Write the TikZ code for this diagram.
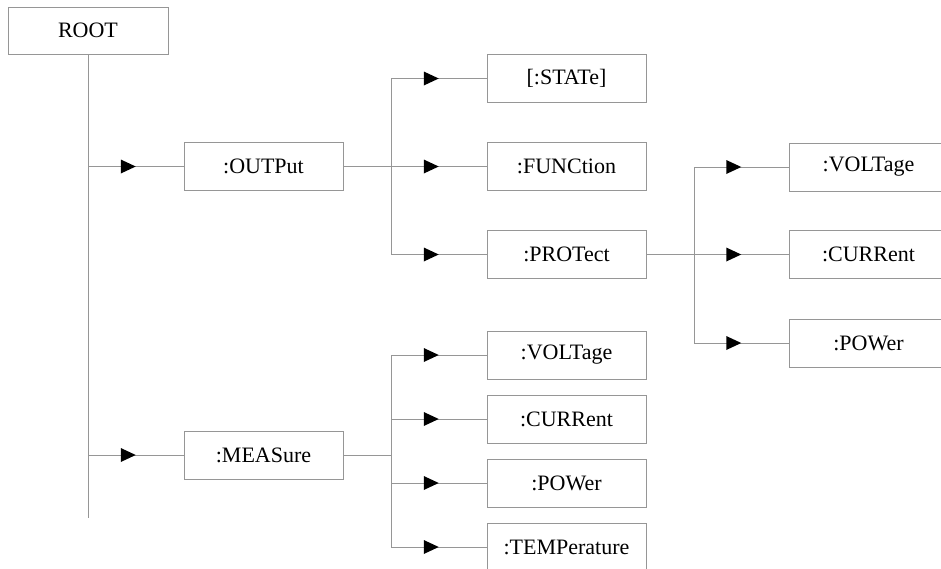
\documentclass[tikz,border=0pt]{standalone}
\usepackage{fontspec}
\setmainfont{Liberation Serif}
\usetikzlibrary{decorations.markings}
\definecolor{linegray}{RGB}{150,150,150}
\begin{document}
\begin{tikzpicture}[x=1pt,y=-1pt,
  box/.style={draw=linegray, line width=1pt, fill=white, minimum width=159pt, minimum height=48pt, inner sep=0pt, font=\fontsize{22}{24}\selectfont},
  conn/.style={draw=linegray, line width=1pt},
  arr/.style={conn, postaction={decorate}, decoration={markings, mark=at position 0.5 with {\fill[black] (-15pt,7pt) -- (0pt,0pt) -- (-15pt,-7pt) -- cycle;}}}
]
\clip (0,0) rectangle (941,568);
\fill[white] (0,0) rectangle (941,568);
% nodes
\node[box, minimum width=160pt, minimum height=47pt] (root) at (88,30.5) {ROOT};
\node[box] (out) at (263.5,166.5) {:OUTPut};
\node[box] (meas) at (263.5,455) {:MEASure};
\node[box] (state) at (566.5,78.5) {[:STATe]};
\node[box] (func) at (566.5,166.5) {:FUNCtion};
\node[box] (prot) at (566.5,254.5) {:PROTect};
\node[box] (mv) at (566.5,355) {:VOLTage};
\node[box] (mc) at (566.5,419) {:CURRent};
\node[box] (mp) at (566.5,483) {:POWer};
\node[box] (mt) at (566.5,547) {:TEMPerature};
\node[box] (pv) at (868.5,167) {:VOLTage};
\node[box] (pc) at (868.5,254.5) {:CURRent};
\node[box] (pp) at (868.5,343) {:POWer};
% branch coordinates
\coordinate (rend) at (88,518);
\coordinate (ob) at (391,166.5);
\coordinate (mb) at (391,455);
\coordinate (pb) at (694,254.5);
% root trunk
\draw[conn] (root.south) -- (rend);
\draw[arr] (root.south |- out.west) -- (out.west);
\draw[arr] (root.south |- meas.west) -- (meas.west);
% OUTPut branch
\draw[conn] (out.east) -- (ob);
\draw[conn] (ob |- state.west) -- (ob |- prot.west);
\draw[arr] (ob |- state.west) -- (state.west);
\draw[arr] (ob) -- (func.west);
\draw[arr] (ob |- prot.west) -- (prot.west);
% PROTect branch
\draw[conn] (prot.east) -- (pb);
\draw[conn] (pb |- pv.west) -- (pb |- pp.west);
\draw[arr] (pb |- pv.west) -- (pv.west);
\draw[arr] (pb) -- (pc.west);
\draw[arr] (pb |- pp.west) -- (pp.west);
% MEASure branch
\draw[conn] (meas.east) -- (mb);
\draw[conn] (mb |- mv.west) -- (mb |- mt.west);
\draw[arr] (mb |- mv.west) -- (mv.west);
\draw[arr] (mb |- mc.west) -- (mc.west);
\draw[arr] (mb |- mp.west) -- (mp.west);
\draw[arr] (mb |- mt.west) -- (mt.west);
\end{tikzpicture}
\end{document}
